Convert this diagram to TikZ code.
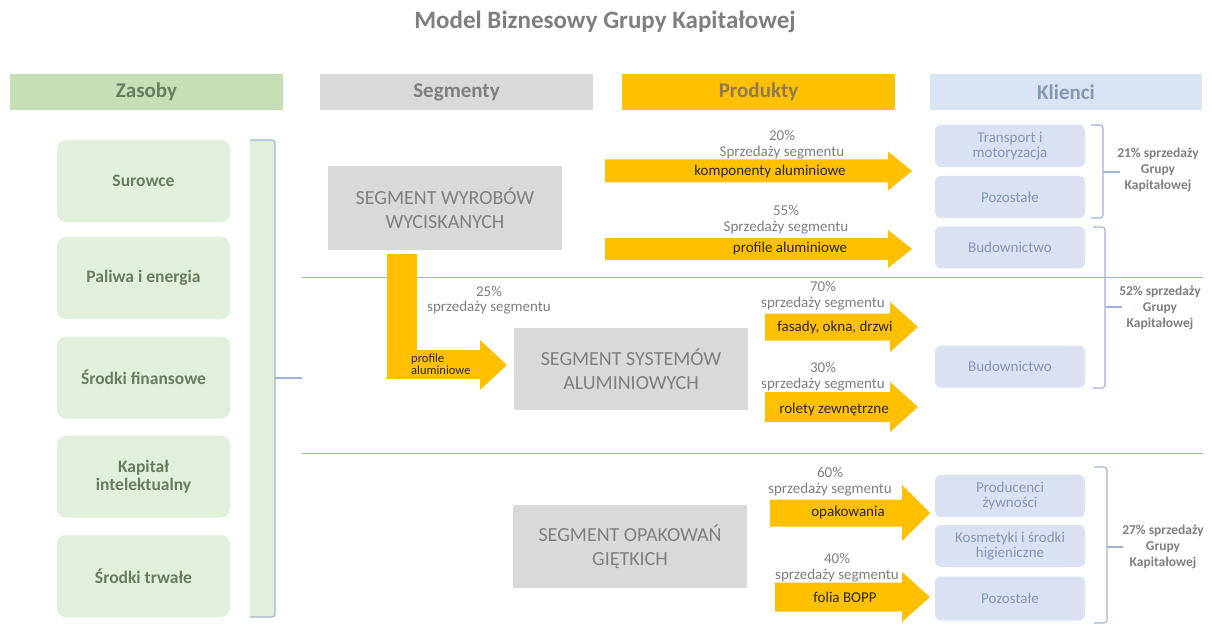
\documentclass[tikz,border=0pt]{standalone}
\usepackage{fontspec}
\setmainfont{Carlito}
\definecolor{hgreen}{HTML}{C5E0B4}
\definecolor{bgreen}{HTML}{E2EFDA}
\definecolor{tgreen}{HTML}{667D5F}
\definecolor{sgray}{HTML}{D9D9D9}
\definecolor{tgray}{HTML}{7F7F7F}
\definecolor{orng}{HTML}{FFC000}
\definecolor{tprod}{HTML}{8C7B55}
\definecolor{hblue}{HTML}{DAE3F3}
\definecolor{cblue}{HTML}{D9E1F2}
\definecolor{tblue}{HTML}{8497B0}
\definecolor{lblue}{HTML}{9DB3D8}
\newcommand{\harrow}[6]{%
  \fill[orng] (#1,#3-#4) -- (#2-#6,#3-#4) -- (#2-#6,#3-#5) -- (#2,#3)
     -- (#2-#6,#3+#5) -- (#2-#6,#3+#4) -- (#1,#3+#4) -- cycle;}
\begin{document}
\begin{tikzpicture}[x=1pt,y=-1pt,
  hdr/.style={minimum width=273, minimum height=36, inner sep=0,
    font=\fontsize{21}{24}\selectfont\bfseries},
  res/.style={fill=bgreen, rounded corners=9, minimum width=173, minimum height=82,
    inner sep=0, align=center, text=tgreen, font=\fontsize{17.5}{18}\selectfont\bfseries},
  segbox/.style={fill=sgray, minimum width=234, minimum height=84, inner sep=0,
    align=center, text=tgray, font=\fontsize{20}{24}\selectfont},
  cli/.style={fill=cblue, rounded corners=6, minimum width=150, minimum height=42,
    inner sep=0, align=center, text=tblue, font=\fontsize{15}{15}\selectfont},
  pct/.style={align=center, text=tgray, inner sep=0, font=\fontsize{15}{15.5}\selectfont},
  alab/.style={text=black!85, inner sep=0, font=\fontsize{15}{16}\selectfont},
  share/.style={align=center, text=tgray, inner sep=1, font=\fontsize{13.5}{16}\selectfont\bfseries},
  brk/.style={draw=lblue, line width=1.1, rounded corners=3},
  sepline/.style={draw=lblue, line width=1}
]
\useasboundingbox[fill=white] (0,0) rectangle (1212,628);

% title
\node[text=tgray, font=\fontsize{25}{28}\selectfont\bfseries] (title) at (605,22) {Model Biznesowy Grupy Kapitałowej};

% headers
\node[hdr, fill=hgreen, text=tgreen] (hzas) at (146.5,92) {Zasoby};
\node[hdr, fill=sgray, text=tgray] (hseg) at (456.5,92) {Segmenty};
\node[hdr, fill=orng, text=tprod] (hprod) at (758.5,92) {Produkty};
\node[hdr, fill=hblue, text=tblue, minimum width=272] (hkli) at (1066,92) {Klienci};

% separator lines
\coordinate (s1a) at (302,277); \coordinate (s1b) at (1203,277);
\coordinate (s2a) at (302,453); \coordinate (s2b) at (1203,453);
\draw[sepline] (s1a) -- (s1b);
\draw[sepline] (s2a) -- (s2b);

% resources
\node[res] (r1) at (143.5,181) {Surowce};
\node[res] (r2) at (143.5,278) {Paliwa i energia};
\node[res] (r3) at (143.5,377.5) {Środki finansowe};
\node[res] (r4) at (143.5,476.5) {Kapitał\\intelektualny};
\node[res] (r5) at (143.5,576) {Środki trwałe};

% left bracket
\fill[bgreen] (250,140) rectangle (275,617);
\draw[brk] (250,140) -- (275,140) -- (275,617) -- (250,617);
\coordinate (lbt) at (275,378); \coordinate (lbe) at (302,378);
\draw[draw=lblue, line width=1.1] (lbt) -- (lbe);

% segments
\node[segbox] (sw) at (445,208) {SEGMENT WYROBÓW\\WYCISKANYCH};
\node[segbox, minimum height=82] (ss) at (631,369) {SEGMENT SYSTEMÓW\\ALUMINIOWYCH};
\node[segbox, minimum height=83] (so) at (630,546.5) {SEGMENT OPAKOWAŃ\\GIĘTKICH};

% orange arrows
\harrow{605}{912}{171}{11.5}{19.5}{24}
\harrow{605}{912}{249}{11}{19}{24}
\fill[orng] (387,254) -- (417,254) -- (417,350) -- (480,350) -- (480,340) -- (507,365)
   -- (480,390) -- (480,379) -- (387,379) -- cycle;
\harrow{765}{918}{327}{13.5}{25}{28}
\harrow{765}{918}{407}{15}{25}{28}
\harrow{770}{930}{513}{13.5}{28}{28}
\harrow{775}{930}{597}{14.5}{25}{28}

% arrow labels
\node[pct] (p1) at (782,144.5) {20\%\\Sprzedaży segmentu};
\node[alab] (l1) at (770,172) {komponenty aluminiowe};
\node[pct] (p2) at (786,219.5) {55\%\\Sprzedaży segmentu};
\node[alab] (l2) at (790,249) {profile aluminiowe};
\node[pct] (p3) at (489,300) {25\%\\sprzedaży segmentu};
\node[alab, align=left, font=\fontsize{12.5}{12}\selectfont, anchor=west] (l3) at (411,364) {profile\\aluminiowe};
\node[pct] (p4) at (823,295.5) {70\%\\sprzedaży segmentu};
\node[alab] (l4) at (835,327) {fasady, okna, drzwi};
\node[pct] (p5) at (823,376.5) {30\%\\sprzedaży segmentu};
\node[alab] (l5) at (834,409) {rolety zewnętrzne};
\node[pct] (p6) at (830,481.5) {60\%\\sprzedaży segmentu};
\node[alab] (l6) at (848,512) {opakowania};
\node[pct] (p7) at (837,567.5) {40\%\\sprzedaży segmentu};
\node[alab] (l7) at (845,597) {folia BOPP};

% clients
\node[cli] (c1) at (1010,146) {Transport i\\motoryzacja};
\node[cli] (c2) at (1010,197) {Pozostałe};
\node[cli] (c3) at (1010,247.5) {Budownictwo};
\node[cli] (c4) at (1010,366.5) {Budownictwo};
\node[cli] (c5) at (1010,496) {Producenci\\żywności};
\node[cli] (c6) at (1010,546) {Kosmetyki i środki\\higieniczne};
\node[cli, minimum height=44] (c7) at (1010,598.5) {Pozostałe};

% right brackets and shares
\node[share] (t1) at (1158,170) {21\% sprzedaży\\Grupy\\Kapitałowej};
\node[share] (t2) at (1160,308) {52\% sprzedaży\\Grupy\\Kapitałowej};
\node[share] (t3) at (1163,547) {27\% sprzedaży\\Grupy\\Kapitałowej};
\draw[brk] (1091,125) -- (1103,125) -- (1103,218) -- (1091,218);
\draw[brk] (1093,227) -- (1105,227) -- (1105,388) -- (1093,388);
\draw[brk] (1094,467) -- (1107,467) -- (1107,623) -- (1094,623);
\coordinate (k1) at (1103,172); \coordinate (k2) at (1105,307); \coordinate (k3) at (1107,547);
\draw[draw=lblue, line width=1.1] (k1) -- (1120,172);
\draw[draw=lblue, line width=1.1] (k2) -- (1122,307);
\draw[draw=lblue, line width=1.1] (k3) -- (1123,547);
\end{tikzpicture}
\end{document}
